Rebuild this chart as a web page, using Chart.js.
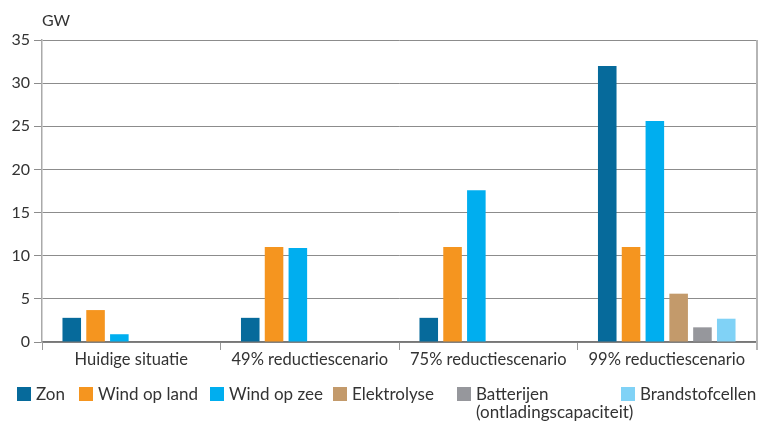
<!DOCTYPE html>
<html>
<head>
<meta charset="utf-8">
<script src="https://cdn.jsdelivr.net/npm/chart.js@4"></script>
<style>
  body { margin: 0; background: #fff; font-family: Lato, sans-serif; color: #333; }
  #wrap { position: relative; width: 764px; height: 426px; }
  #unit { position: absolute; left: 42px; top: 10px; font-size: 16px; }
  #legend { position: absolute; left: 0; top: 385px; width: 764px; height: 40px; }
  .item { position: absolute; top: 0; display: flex; align-items: flex-start; font-size: 17px; line-height: 18px; }
  .box { width: 14px; height: 14px; margin-right: 5px; margin-top: 2px; flex: none; }
</style>
</head>
<body>
<div id="wrap">
  <canvas id="myChart" width="764" height="426"></canvas>
  <div id="unit">GW</div>
  <div id="legend"></div>
</div>
<script>
const categories = ["Huidige situatie", "49% reductiescenario", "75% reductiescenario", "99% reductiescenario"];

const zon            = [2.8, 2.8, 2.8, 32.0];
const windOpLand     = [3.7, 11.0, 11.0, 11.0];
const windOpZee      = [0.9, 10.9, 17.6, 25.6];
const elektrolyse    = [null, null, null, 5.6];
const batterijen     = [null, null, null, 1.7];
const brandstofcellen = [null, null, null, 2.7];

const yTicks = [0, 5, 10, 15, 20, 25, 30, 35];

const series = [
  { label: ["Zon"], data: zon, color: "#066a9b" },
  { label: ["Wind op land"], data: windOpLand, color: "#f5951f" },
  { label: ["Wind op zee"], data: windOpZee, color: "#00aeef" },
  { label: ["Elektrolyse"], data: elektrolyse, color: "#c39a6b" },
  { label: ["Batterijen", "(ontladingscapaciteit)"], data: batterijen, color: "#96979c" },
  { label: ["Brandstofcellen"], data: brandstofcellen, color: "#80d2f6" }
];

// legend x positions (layout only)
const legendLeft = [17, 79, 210, 333, 457, 621];

// right hand border line of the plot
const rightBorder = {
  id: "rightBorder",
  afterDraw(chart) {
    const { ctx, chartArea } = chart;
    ctx.save();
    ctx.strokeStyle = "#b5b5b5";
    ctx.lineWidth = 2;
    ctx.beginPath();
    ctx.moveTo(chartArea.right + 1, chartArea.top);
    ctx.lineTo(chartArea.right + 1, chartArea.bottom + 8);
    ctx.stroke();
    ctx.restore();
  }
};

const chart = new Chart("myChart", {
  type: "bar",
  data: {
    labels: categories,
    datasets: series.map(s => ({
      label: s.label.join(" "),
      data: s.data,
      backgroundColor: s.color,
      categoryPercentage: 0.8,
      barPercentage: 0.78
    }))
  },
  options: {
    responsive: false,
    animation: false,
    layout: { padding: { top: 40, right: 8, left: 0, bottom: 0 } },
    plugins: {
      legend: { display: false },
      tooltip: { enabled: false }
    },
    scales: {
      x: {
        grid: { offset: true, drawOnChartArea: false, tickLength: 8, color: "#999" },
        border: { color: "#777", width: 1.5 },
        ticks: { color: "#333", font: { family: "Lato", size: 16.5 }, padding: 0, maxRotation: 0 },
        afterFit(scale) { scale.height = 84; }
      },
      y: {
        min: 0,
        max: 35,
        afterBuildTicks(scale) { scale.ticks = yTicks.map(v => ({ value: v })); },
        grid: { color: "#8c8c8c", lineWidth: 1, tickLength: 8 },
        border: { color: "#aaa", width: 1.5 },
        ticks: { color: "#333", font: { family: "Lato", size: 16 }, padding: 4 },
        afterFit(scale) { scale.width = 42; }
      }
    }
  },
  plugins: [rightBorder]
});

// html legend, so the two-line label keeps its break
const legend = document.getElementById("legend");
series.forEach((s, i) => {
  const item = document.createElement("div");
  item.className = "item";
  item.style.left = legendLeft[i] + "px";
  const box = document.createElement("span");
  box.className = "box";
  box.style.background = s.color;
  const text = document.createElement("span");
  text.innerHTML = s.label.join("<br>");
  item.appendChild(box);
  item.appendChild(text);
  legend.appendChild(item);
});
</script>
</body>
</html>
